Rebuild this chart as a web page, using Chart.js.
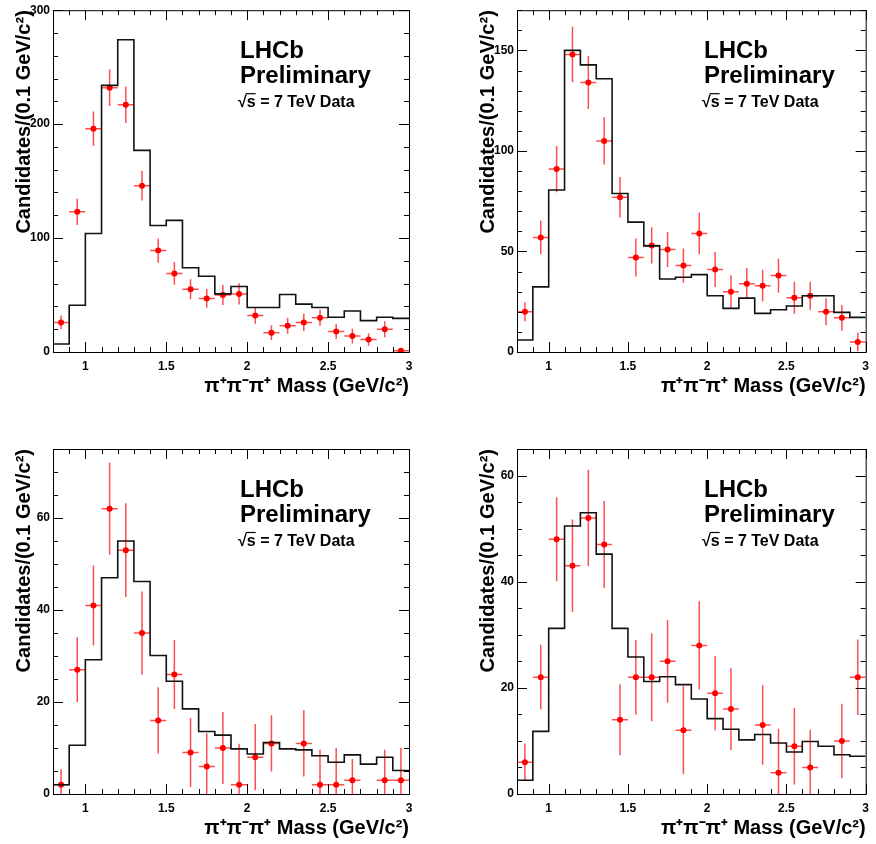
<!DOCTYPE html>
<html>
<head>
<meta charset="utf-8">
<script src="https://cdn.jsdelivr.net/npm/chart.js@4"></script>
<style>
  body { margin: 0; background: #fff; }
  #wrap { position: relative; width: 876px; height: 844px; }
  canvas { position: absolute; }
</style>
</head>
<body>
<div id="wrap">
  <canvas id="c1" width="438" height="422" style="left:0;top:0"></canvas>
  <canvas id="c2" width="438" height="422" style="left:438px;top:0"></canvas>
  <canvas id="c3" width="438" height="422" style="left:0;top:422px"></canvas>
  <canvas id="c4" width="438" height="422" style="left:438px;top:422px"></canvas>
</div>
<script>
const binEdges = [0.8, 0.9, 1.0, 1.1, 1.2, 1.3, 1.4, 1.5, 1.6, 1.7, 1.8, 1.9, 2.0, 2.1, 2.2, 2.3, 2.4, 2.5, 2.6, 2.7, 2.8, 2.9, 3.0];
const binCenters = [0.85, 0.95, 1.05, 1.15, 1.25, 1.35, 1.45, 1.55, 1.65, 1.75, 1.85, 1.95, 2.05, 2.15, 2.25, 2.35, 2.45, 2.55, 2.65, 2.75, 2.85, 2.95];
const xTicks = [1, 1.5, 2, 2.5, 3];

// top left
const hist1 = [7, 41, 104, 234, 274, 177, 111, 115.5, 74, 66.5, 51, 57.5, 39, 39, 50.5, 42, 39, 30.5, 36, 27.5, 30.5, 29.5];
const data1 = [26, 123, 196, 232, 217, 146, 89, 69, 55, 47, 50, 51, 32, 17, 23, 26, 30, 18, 14, 11, 20, 1];
const err1 = [6, 11.6, 15, 16, 16, 13, 10.7, 10, 8.8, 8.2, 8.7, 9.4, 7.3, 6.5, 7, 7.5, 7, 6.5, 6.5, 5.5, 7, 1];
const yTicks1 = [0, 100, 200, 300];

// top right
const hist2 = [6, 32.4, 80.6, 150, 142.8, 135.9, 78.8, 64.6, 52.8, 36.3, 37.2, 38.5, 28, 21.7, 26.8, 19.2, 21, 22.9, 28, 28, 19.7, 17.2];
const data2 = [20, 57, 91, 148, 134, 105, 77, 47, 53, 51, 43, 59, 41, 30, 34, 33, 38, 27, 28, 20, 17, 5];
const err2 = [4.7, 8.4, 11.5, 13.8, 13.2, 11.7, 10.1, 9.5, 9, 8.7, 8.5, 10.4, 8.7, 8.2, 7.8, 7.9, 8.5, 8, 7, 6.7, 6.4, 4.6];
const yTicks2 = [0, 50, 100, 150];

// bottom left
const hist3 = [2, 10.6, 29.2, 47, 55, 46.2, 30.1, 24.5, 18.5, 13.6, 12.8, 9.8, 8.7, 11.2, 9.8, 9.6, 8.3, 6.9, 8.5, 6.5, 8, 5.1];
const data3 = [2, 27, 41, 62, 53, 35, 16, 26, 9, 6, 10, 2, 8, 11, null, 11, 2, 2, 3, null, 3, 3];
const err3 = [3.4, 7, 8.7, 10, 10.2, 9, 7.2, 7.5, 7.5, 7.2, 7.8, 8.9, 7.2, 6.1, null, 7.2, 7.6, 8, 4.6, null, 6.6, 7];
const yTicks3 = [0, 20, 40, 60];

// bottom right
const hist4 = [2.6, 11.8, 31.2, 50.5, 53, 45.2, 31.2, 25.8, 21.2, 22.1, 20.6, 17.9, 14.2, 12.2, 10.2, 11.2, 9.6, 7.9, 9.9, 9.0, 7.4, 7.1];
const data4 = [6, 22, 48, 43, 52, 47, 14, 22, 22, 25, 12, 28, 19, 16, null, 13, 4, 9, 5, null, 10, 22];
const err4 = [3.5, 6.1, 7.9, 8.7, 9.1, 8.2, 6.7, 7, 8.3, 7.8, 8.3, 8.3, 7, 7.7, null, 7.5, 8.3, 7.2, 7.1, null, 7, 7.1];
const yTicks4 = [0, 20, 40, 60];

const FONT = '"Liberation Sans", Arial, Helvetica, sans-serif';

const panels = [
  { id: "c1", hist: hist1, data: data1, err: err1, yTicks: yTicks1, yMax: 300, yMinor: 20, pad: { left: 0, top: 7, right: 29, bottom: 24 } },
  { id: "c2", hist: hist2, data: data2, err: err2, yTicks: yTicks2, yMax: 170, yMinor: 10, pad: { left: 26, top: 7, right: 3, bottom: 24 } },
  { id: "c3", hist: hist3, data: data3, err: err3, yTicks: yTicks3, yMax: 75, yMinor: 5, pad: { left: 0, top: 27, right: 29, bottom: 4 } },
  { id: "c4", hist: hist4, data: data4, err: err4, yTicks: yTicks4, yMax: 65, yMinor: 5, pad: { left: 26, top: 27, right: 3, bottom: 4 } },
];

// error bars, drawn after the histogram and before the dots
const errorBars = {
  id: "errorBars",
  beforeDatasetDraw(chart, args, opts) {
    if (args.index !== 1) return;
    const { ctx, chartArea: a, scales: { x, y } } = chart;
    ctx.save();
    ctx.beginPath();
    ctx.rect(a.left, a.top, a.right - a.left, a.bottom - a.top);
    ctx.clip();
    ctx.strokeStyle = "rgba(255,0,0,0.7)";
    ctx.lineWidth = 1.5;
    opts.values.forEach((v, i) => {
      if (v === null) return;
      const e = opts.errs[i];
      const cx = x.getPixelForValue(binCenters[i]);
      const cy = y.getPixelForValue(v);
      ctx.beginPath();
      ctx.moveTo(x.getPixelForValue(binEdges[i]), cy);
      ctx.lineTo(x.getPixelForValue(binEdges[i + 1]), cy);
      ctx.moveTo(cx, y.getPixelForValue(v - e));
      ctx.lineTo(cx, y.getPixelForValue(v + e));
      ctx.stroke();
    });
    ctx.restore();
  },
};

// ROOT style frame with inward ticks on all four sides
const rootFrame = {
  id: "rootFrame",
  afterDraw(chart, args, opts) {
    const { ctx, chartArea: a, scales: { x, y } } = chart;
    ctx.save();
    ctx.strokeStyle = "#000";
    ctx.lineWidth = 1;
    ctx.strokeRect(a.left + 0.5, a.top + 0.5, a.right - a.left, a.bottom - a.top);
    ctx.beginPath();
    binEdges.forEach((v) => {
      const px = Math.round(x.getPixelForValue(v)) + 0.5;
      const len = xTicks.includes(v) ? 10 : 5;
      ctx.moveTo(px, a.bottom); ctx.lineTo(px, a.bottom - len);
      ctx.moveTo(px, a.top); ctx.lineTo(px, a.top + len);
    });
    for (let v = 0; v <= opts.yMax; v += opts.yMinor) {
      const py = Math.round(y.getPixelForValue(v)) + 0.5;
      const len = opts.yTicks.includes(v) ? 10 : 5;
      ctx.moveTo(a.left, py); ctx.lineTo(a.left + len, py);
      ctx.moveTo(a.right, py); ctx.lineTo(a.right - len, py);
    }
    ctx.stroke();

    // LHCb label
    const lx = a.left + 187;
    ctx.fillStyle = "#000";
    ctx.textBaseline = "alphabetic";
    ctx.font = "bold 24px " + FONT;
    ctx.fillText("LHCb", lx, a.top + 48);
    ctx.fillText("Preliminary", lx, a.top + 73);
    ctx.font = "bold 16px " + FONT;
    const sx = lx - 2, sy = a.top + 97;
    ctx.fillText("√s = 7 TeV Data", sx, sy);
    const w0 = ctx.measureText("√").width;
    const w1 = ctx.measureText("√s").width;
    ctx.beginPath();
    ctx.lineWidth = 1.2;
    ctx.moveTo(sx + w0 - 1, sy - 13.5);
    ctx.lineTo(sx + w1, sy - 13.5);
    ctx.stroke();
    ctx.restore();
  },
};

function makeChart(p) {
  const histPoints = binEdges.map((e, i) => ({ x: e, y: p.hist[Math.min(i, p.hist.length - 1)] }));
  const dataPoints = binCenters.map((c, i) => ({ x: c, y: p.data[i] }));

  new Chart(document.getElementById(p.id), {
    type: "scatter",
    data: {
      datasets: [
        {
          type: "line",
          data: histPoints,
          stepped: "before",
          borderColor: "#111",
          borderWidth: 1.6,
          pointRadius: 0,
          fill: false,
        },
        {
          data: dataPoints,
          backgroundColor: "#ff0000",
          borderColor: "#ff0000",
          pointRadius: 3,
          borderWidth: 0,
        },
      ],
    },
    options: {
      responsive: false,
      animation: false,
      devicePixelRatio: 1,
      layout: { padding: p.pad },
      plugins: {
        legend: { display: false },
        tooltip: { enabled: false },
        errorBars: { values: p.data, errs: p.err },
        rootFrame: { yMax: p.yMax, yMinor: p.yMinor, yTicks: p.yTicks },
      },
      scales: {
        x: {
          type: "linear",
          min: 0.8,
          max: 3,
          grid: { display: false, drawTicks: false },
          border: { display: false },
          afterBuildTicks: (s) => { s.ticks = xTicks.map((v) => ({ value: v })); },
          afterFit: (s) => { s.height = 46; },
          ticks: {
            autoSkip: false,
            maxRotation: 0,
            padding: 7,
            color: "#000",
            font: { family: FONT, size: 12, weight: "bold" },
            callback: (v) => String(v),
          },
          title: {
            display: true,
            text: "π⁺π⁻π⁺ Mass (GeV/c²)",
            align: "end",
            color: "#000",
            padding: { top: 0, bottom: 0 },
            font: { family: FONT, size: 20, weight: "bold" },
          },
        },
        y: {
          type: "linear",
          min: 0,
          max: p.yMax,
          grid: { display: false, drawTicks: false },
          border: { display: false },
          afterBuildTicks: (s) => { s.ticks = p.yTicks.map((v) => ({ value: v })); },
          afterFit: (s) => { s.width = 53; },
          ticks: {
            autoSkip: false,
            padding: 3,
            color: "#000",
            font: { family: FONT, size: 12, weight: "bold" },
            callback: (v) => String(v),
          },
          title: {
            display: true,
            text: "Candidates/(0.1 GeV/c²)",
            align: "end",
            color: "#000",
            padding: { top: 12, bottom: 0 },
            font: { family: FONT, size: 20, weight: "bold" },
          },
        },
      },
    },
    plugins: [errorBars, rootFrame],
  });
}

panels.forEach(makeChart);
</script>
</body>
</html>
